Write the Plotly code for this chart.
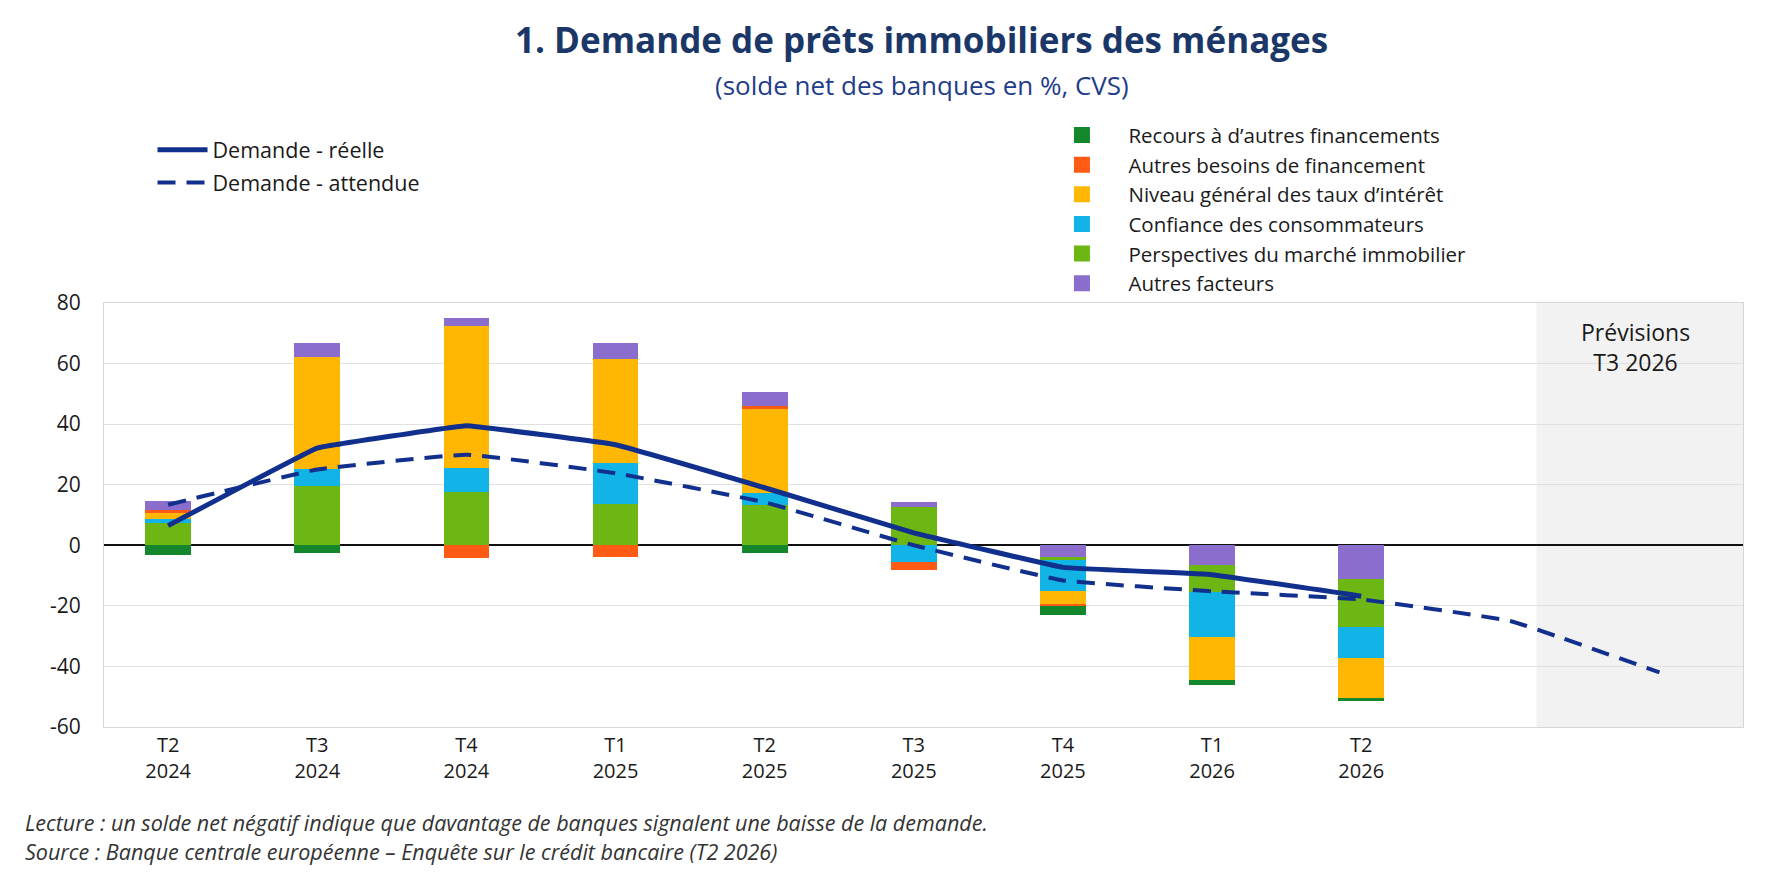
import plotly.graph_objects as go
import numpy as np

# ---------------- data ----------------
categories = ["T2<br>2024", "T3<br>2024", "T4<br>2024", "T1<br>2025", "T2<br>2025",
              "T3<br>2025", "T4<br>2025", "T1<br>2026", "T2<br>2026"]
positions = list(range(len(categories)))
forecast_positions = list(range(len(categories) + 2))

recours = [-3.3, -2.7, 0.0, 0.0, -2.7, 0.0, -3.0, -1.8, -1.0]
autres_besoins = [0.9, 0.0, -4.2, -3.8, 1.0, -2.7, -0.5, 0.0, 0.0]
taux = [2.1, 36.9, 47.0, 34.3, 27.8, 0.0, -4.4, -14.0, -13.4]
confiance = [1.1, 5.5, 8.0, 13.5, 3.8, -5.5, -10.0, -15.0, -10.2]
perspectives = [7.5, 19.7, 17.5, 13.6, 13.4, 12.6, -1.0, -8.8, -15.9]
autres_facteurs = [3.1, 4.6, 2.6, 5.3, 4.7, 1.6, -4.0, -6.6, -11.0]

demande_reelle = [6.5, 32.1, 39.5, 33.2, 19.0, 4.1, -7.3, -9.7, -16.8]
demande_attendue = [13.4, 25.0, 29.9, 23.8, 14.2, 0.0, -11.6, -15.2, -17.9, -25.0, -42.0]

y_ticks = [-60, -40, -20, 0, 20, 40, 60, 80]
y_tick_labels = ["-60", "-40", "-20", "0", "20", "40", "60", "80"]

# ---------------- styles ----------------
FONT = "Open Sans"
NAVY = "#112f8c"
series = {
    "recours": ("Recours à d’autres financements", recours, "#14862b"),
    "besoins": ("Autres besoins de financement", autres_besoins, "#ff5b14"),
    "taux": ("Niveau général des taux d’intérêt", taux, "#ffb703"),
    "confiance": ("Confiance des consommateurs", confiance, "#12b3e6"),
    "perspectives": ("Perspectives du marché immobilier", perspectives, "#6cb714"),
    "autres": ("Autres facteurs", autres_facteurs, "#8a6dcc"),
}
legend_order = ["recours", "besoins", "taux", "confiance", "perspectives", "autres"]
pos_order = ["perspectives", "confiance", "taux", "besoins", "autres", "recours"]
neg_order = ["autres", "perspectives", "confiance", "taux", "besoins", "recours"]

fig = go.Figure()

for key in pos_order:
    name, vals, col = series[key]
    v = np.array(vals)
    fig.add_trace(go.Bar(
        x=positions, y=np.where(v > 0, v, 0), name=name, marker_color=col,
        marker_line_width=0, width=0.307, legend="legend2", legendgroup=key,
        showlegend=False))
for key in neg_order:
    name, vals, col = series[key]
    v = np.array(vals)
    fig.add_trace(go.Bar(
        x=positions, y=np.where(v < 0, v, 0), name=name, marker_color=col,
        marker_line_width=0, width=0.307, legend="legend2", legendgroup=key,
        showlegend=False))

# legend-only entries with larger square swatches
for rank, key in enumerate(legend_order):
    name, vals, col = series[key]
    fig.add_trace(go.Scatter(
        x=[None], y=[None], mode="markers", name=name,
        marker=dict(color=col, size=20, symbol="square", line_width=0),
        legend="legend2", legendgroup=key,
        legendrank=rank + 1, showlegend=True, hoverinfo="skip"))

fig.add_trace(go.Scatter(
    x=forecast_positions, y=demande_attendue, mode="lines", name="Demande - attendue",
    line=dict(color=NAVY, width=4, dash="18px,11px", shape="spline", smoothing=0.3),
    legend="legend", legendgroup="att", legendrank=2))
fig.add_trace(go.Scatter(
    x=positions, y=demande_reelle, mode="lines", name="Demande - réelle",
    line=dict(color=NAVY, width=5, shape="spline", smoothing=0.15),
    legend="legend", legendgroup="reel", legendrank=1))

x_range = [-0.43, 10.56]

fig.add_shape(type="rect", xref="x", yref="paper", x0=9.175, x1=x_range[1], y0=0, y1=1,
              fillcolor="#f2f2f2", line_width=0, layer="below")

fig.add_annotation(x=9.84, y=0.897, xref="x", yref="paper", yanchor="middle",
                   text="Prévisions<br>T3 2026",
                   showarrow=False, font=dict(family=FONT, size=23, color="#1a1a1a"),
                   align="center")

# title and subtitle
fig.add_annotation(x=0.499, y=1.622, xref="paper", yref="paper", yanchor="middle",
                   xanchor="center", text="<b>1. Demande de prêts immobiliers des ménages</b>",
                   showarrow=False, font=dict(family=FONT, size=35, color="#1b3768"))
fig.add_annotation(x=0.499, y=1.515, xref="paper", yref="paper", yanchor="middle",
                   xanchor="center", text="(solde net des banques en %, CVS)",
                   showarrow=False, font=dict(family=FONT, size=26, color="#1f3c8c"))

fig.add_annotation(x=-0.0494, y=-0.226, xref="paper", yref="paper", xanchor="left", yanchor="middle",
                   text="<i>Lecture : un solde net négatif indique que davantage de banques signalent une baisse de la demande.</i>",
                   showarrow=False, font=dict(family=FONT, size=21.5, color="#333333"))
fig.add_annotation(x=-0.0494, y=-0.294, xref="paper", yref="paper", xanchor="left", yanchor="middle",
                   text="<i>Source : Banque centrale européenne – Enquête sur le crédit bancaire (T2 2026)</i>",
                   showarrow=False, font=dict(family=FONT, size=21.5, color="#333333"))

fig.update_layout(
    width=1774, height=887,
    margin=dict(l=104, r=31, t=303, b=160),
    paper_bgcolor="white", plot_bgcolor="white",
    barmode="relative", bargap=0,
    font=dict(family=FONT, color="#1a1a1a"),
    legend=dict(x=0.0296, y=1.41, xanchor="left", yanchor="top",
                font=dict(family=FONT, size=21.5, color="#1a1a1a"),
                bgcolor="rgba(0,0,0,0)", traceorder="grouped", tracegroupgap=2,
                itemwidth=50),
    legend2=dict(x=0.5683, y=1.443, xanchor="left", yanchor="top",
                 font=dict(family=FONT, size=20.5, color="#1a1a1a"),
                 bgcolor="rgba(0,0,0,0)", traceorder="normal", itemwidth=83),
    xaxis=dict(range=x_range, tickmode="array", tickvals=positions, ticktext=categories,
               showgrid=False, zeroline=False, showline=True, mirror=True,
               linecolor="#d6d6d6", linewidth=1, ticks="",
               tickfont=dict(family=FONT, size=20, color="#1a1a1a")),
    yaxis=dict(range=[-60, 80], tickmode="array", tickvals=y_ticks, ticktext=y_tick_labels,
               showgrid=True, gridcolor="#e0e0e0", gridwidth=1,
               zeroline=True, zerolinecolor="#111111", zerolinewidth=2,
               showline=True, mirror=True, linecolor="#d6d6d6", linewidth=1,
               ticks="", ticklabelstandoff=18,
               tickfont=dict(family=FONT, size=21, color="#1a1a1a")),
)

fig.write_html("out.html")
